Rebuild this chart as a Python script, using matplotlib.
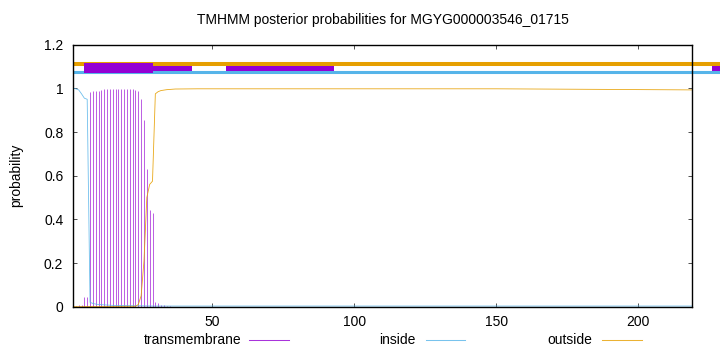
import matplotlib
matplotlib.use('Agg')
import matplotlib.pyplot as plt
from matplotlib.lines import Line2D

plt.rcParams['font.family'] = ['Liberation Sans', 'DejaVu Sans']
plt.rcParams['font.size'] = 10

# posterior probabilities
tm_pos = list(range(1, 36))
tm_prob = [0.004, 0.005, 0.006, 0.008, 0.046, 0.046, 0.985, 0.988, 0.990, 0.990,
           0.993, 0.995, 0.997, 0.998, 0.999, 0.999, 0.999, 0.999, 0.999, 0.998,
           0.997, 0.996, 0.994, 0.990, 0.950, 0.855, 0.630, 0.443, 0.430, 0.020,
           0.015, 0.010, 0.008, 0.005, 0.003]

inside_pos = [1, 2, 3, 4, 5, 6, 7, 8, 9, 10, 15, 25, 30, 219]
inside_prob = [1.0, 0.998, 0.993, 0.975, 0.955, 0.950, 0.020, 0.015, 0.012, 0.010,
               0.006, 0.004, 0.003, 0.003]

outside_pos = [1, 23, 24, 25, 26, 27, 28, 29, 30, 31, 32, 34, 37, 45, 150, 219]
outside_prob = [0.0, 0.002, 0.010, 0.050, 0.210, 0.500, 0.560, 0.575, 0.975, 0.985,
                0.990, 0.994, 0.997, 0.998, 0.998, 0.993]

# predicted topology bars above the curves
topo_start, topo_end = 1, 229
tm_box = [(5, 24)]
inside_segs = [(29, 14), (55, 38), (226, 3)]

colors = {'tm': '#9400D3', 'inside': '#56B4E9', 'outside': '#E69F00'}

fig = plt.figure(figsize=(7.2, 3.52), dpi=100)
ax = fig.add_axes([73 / 720, 1 - 306.7 / 352, (692 - 73) / 720, (306.7 - 44.7) / 352])

ax.vlines(tm_pos, 0, tm_prob, color=colors['tm'], lw=0.55, alpha=0.8)
ax.plot(inside_pos, inside_prob, color=colors['inside'], lw=0.6, alpha=0.85)
ax.plot(outside_pos, outside_prob, color=colors['outside'], lw=0.6, alpha=0.9)

ax.plot([topo_start, topo_end], [1.113, 1.113], color=colors['outside'], lw=2.9,
        clip_on=False, solid_capstyle='butt', zorder=3)
ax.plot([topo_start, topo_end], [1.074, 1.074], color=colors['inside'], lw=2.2,
        clip_on=False, solid_capstyle='butt', zorder=3)
ax.broken_barh(inside_segs, (1.081, 0.022), facecolor=colors['tm'], clip_on=False, zorder=4)
ax.broken_barh(tm_box, (1.071, 0.045), facecolor=colors['tm'], clip_on=False, zorder=4)

ax.set_xlim(1, 219)
ax.set_ylim(0, 1.2)
ax.set_xticks([50, 100, 150, 200])
ax.set_yticks([0, 0.2, 0.4, 0.6, 0.8, 1.0, 1.2])
ax.set_yticklabels(['0', '0.2', '0.4', '0.6', '0.8', '1', '1.2'])
ax.tick_params(direction='in', length=3, width=0.6, top=True, right=True,
               colors='#333333', labelcolor='black')
ax.tick_params(axis='y', pad=7)
ax.tick_params(axis='x', pad=6)
for s in ax.spines.values():
    s.set_linewidth(1.0)
    s.set_zorder(5)

fig.text(382.5 / 720, 1 - 20 / 352, 'TMHMM posterior probabilities for MGYG000003546_01715',
         ha='center', va='center')
fig.text(16 / 720, 1 - 175 / 352, 'probability', rotation=90, ha='center', va='center')

# legend: label then line sample
leg_y = 1 - 340 / 352
for label, key, tx, x0, x1 in [('transmembrane', 'tm', 241, 249, 289),
                               ('inside', 'inside', 416, 426, 465),
                               ('outside', 'outside', 592, 602, 642)]:
    fig.text(tx / 720, leg_y, label, ha='right', va='center')
    fig.add_artist(Line2D([x0 / 720, x1 / 720], [leg_y, leg_y], color=colors[key],
                          lw=0.75, alpha=0.8))

fig.savefig('out.png', dpi=100)
